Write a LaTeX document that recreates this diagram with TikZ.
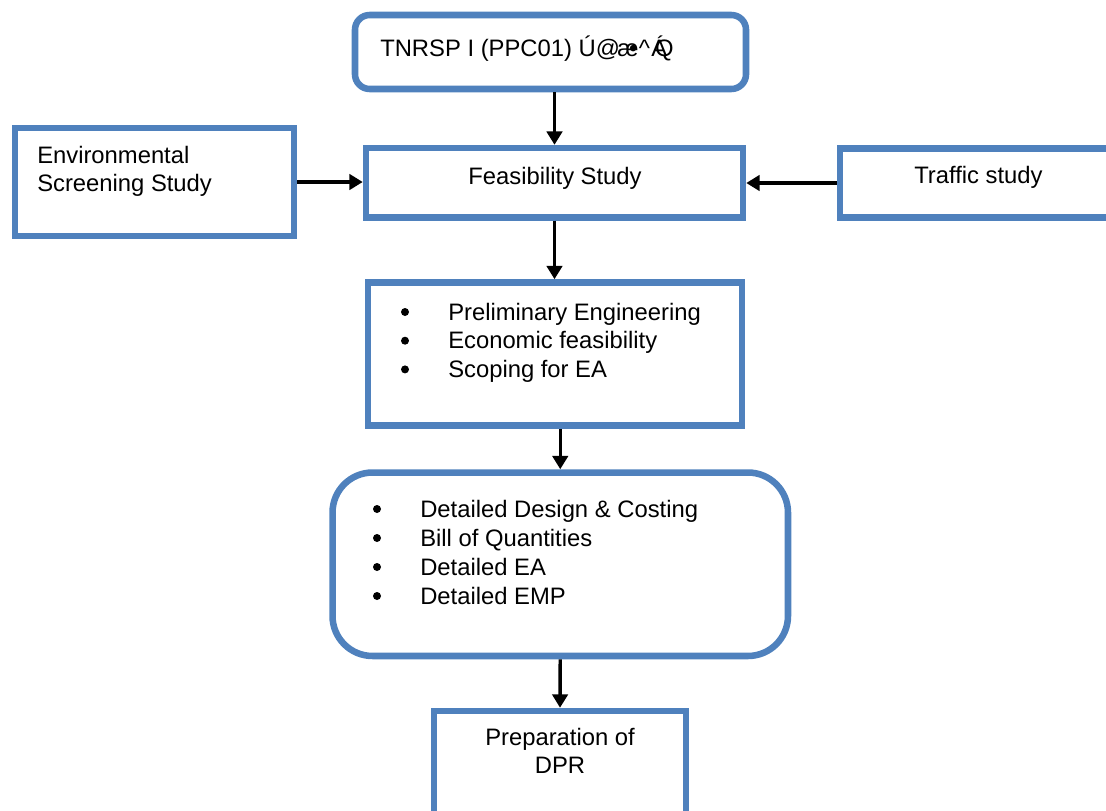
\documentclass[tikz,border=0pt]{standalone}
\usepackage{fontspec}
\setmainfont{Liberation Sans}
\usepackage{tikz}
\usetikzlibrary{arrows.meta,calc}
\definecolor{boxblue}{RGB}{79,129,189}

\begin{document}
\begin{tikzpicture}[x=0.75pt,y=-0.75pt,
            blk/.style={draw=boxblue,line width=4.9pt,fill=white,inner sep=0pt,rectangle},
            txt/.style={anchor=base west,inner sep=0pt,font=\fontsize{17.85}{21.75}\selectfont},
            ctxt/.style={txt,anchor=base},
            dot/.style={circle,fill=black,inner sep=0pt,minimum size=6pt},
            arr/.style={-{Triangle[width=11.5pt,length=10pt]},line width=2.6pt}]
            \useasboundingbox (0,0) rectangle (1106,810);
            \node [blk,rounded corners=11pt,minimum width=293.25pt,minimum height=55.5pt] (top) at (550.5,52) {};
            \node [blk,minimum width=209.25pt,minimum height=81pt] (env) at (154.5,182) {};
            \node [blk,minimum width=282.75pt,minimum height=52pt] (feas) at (554.5,182.75) {};
            \node [blk,minimum width=217.5pt,minimum height=51.75pt] (traffic) at (985,183) {};
            \node [blk,minimum width=280.5pt,minimum height=107.25pt] (prelim) at (555,354) {};
            \node [blk,rounded corners=30pt,minimum width=341.6pt,minimum height=137.6pt] (detailed) at (560.25,564.25) {};
            \node [blk,minimum width=189pt,minimum height=104.25pt] (dpr) at (560,780.5) {};
          \draw [arr] (top.south -| feas.north) -- (feas.north);
          \draw [arr] (env.east) -- (env.east -| feas.west);
          \draw [arr] (traffic.west) -- (traffic.west -| feas.east);
          \draw [arr] (feas.south) -- (feas.south |- prelim.north);
          \draw [arr] (prelim.south -| detailed.north) -- (detailed.north);
          \draw [arr] (detailed.south) -- (dpr.north);
          \node [txt] (tTop) at (380,56) {TNRSP I (PPC01) Ú@\kern-2pt æ\kern-7pt•\kern1pt\textasciicircum\kern1pt Á\kern-9pt Q};
          \node [txt] (tEnvA) at (37,163) {Environmental};
          \node [txt] (tEnvB) at (37,191.7) {Screening Study};
          \node [ctxt] (tFeas) at (555,184) {Feasibility Study};
          \node [txt] (tTraffic) at (914,183.3) {Traffic study};
          \node [dot] (bPrelimA) at (405,312) {};
          \node [txt] (tPrelimA) at (448,320) {Preliminary Engineering};
          \node [dot] (bPrelimB) at (405,340.7) {};
          \node [txt] (tPrelimB) at (448,348.7) {Economic feasibility};
          \node [dot] (bPrelimC) at (405,369.4) {};
          \node [txt] (tPrelimC) at (448,377.4) {Scoping for EA};
          \node [dot] (bDetA) at (377,509) {};
          \node [txt] (tDetA) at (420,517) {Detailed Design \& Costing};
          \node [dot] (bDetB) at (377,538) {};
          \node [txt] (tDetB) at (420,546) {Bill of Quantities};
          \node [dot] (bDetC) at (377,567) {};
          \node [txt] (tDetC) at (420,575) {Detailed EA};
          \node [dot] (bDetD) at (377,596) {};
          \node [txt] (tDetD) at (420,604) {Detailed EMP};
          \node [ctxt] (tDprA) at (560,745) {Preparation of};
          \node [ctxt] (tDprB) at (560,773) {DPR};
        \end{tikzpicture}
\end{document}
